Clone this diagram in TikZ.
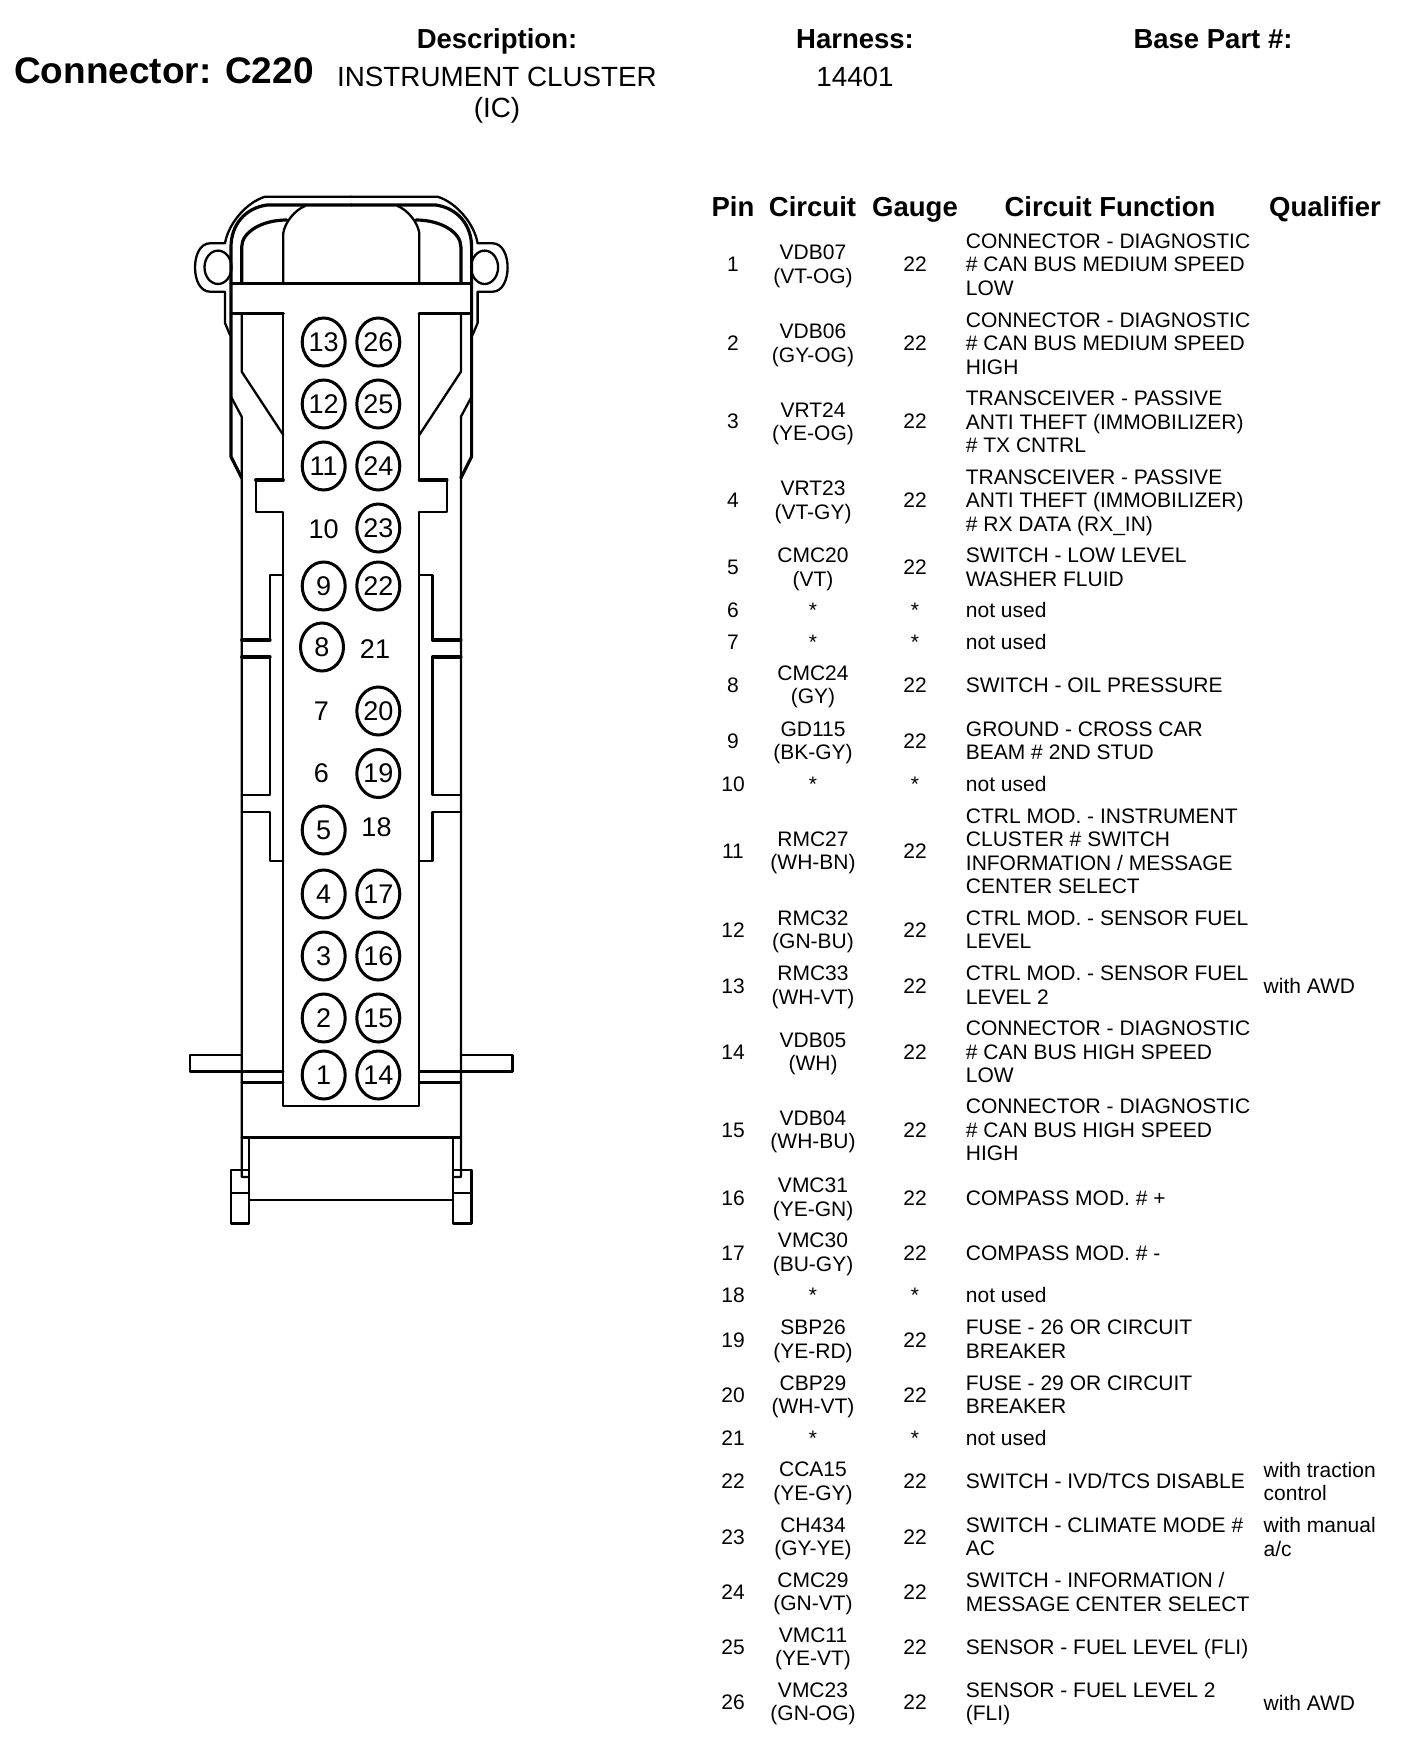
\documentclass[tikz,border=0pt]{standalone}
\usepackage{fontspec}
\setmainfont{Liberation Sans}
\usetikzlibrary{shapes.geometric}
\tikzset{
	partline/.style={line width=2.3pt,line cap=round,line join=round},
	partheavy/.style={line width=3.2pt,line cap=round,line join=round},
	pinring/.style={draw,ellipse,line width=3pt,inner sep=0pt,minimum width=43pt,minimum height=48pt,font=\fontsize{27}{29}\selectfont},
	pinbare/.style={inner sep=0pt,font=\fontsize{27}{29}\selectfont},
	headbold/.style={inner sep=0pt,anchor=base,font=\fontsize{27.5}{30}\bfseries\selectfont},
	headplain/.style={inner sep=0pt,anchor=base,font=\fontsize{27.8}{30}\selectfont},
	cellcenter/.style={inner sep=0pt,align=center,yshift=-2.8pt,font=\fontsize{21}{23.4}\selectfont,execute at begin node=\strut,execute at end node=\strut},
	cellleft/.style={cellcenter,anchor=west,align=left}
}
% one half of the connector shell, the other half is mirrored
\newcommand{\shellhalf}{
	\draw [partline] (351.3,196.7) -- (265,196.7) .. controls (245,203) and (228,225) .. (225,243.3) -- (210,243.3) .. controls (190,243.3) and (190,291.7) .. (210,291.7) -- (225,291.7) -- (225,323) -- (230,335);
	\draw [partline] (218,267.3) ellipse (13.5 and 16.7);
	\draw [partheavy] (351.3,205) -- (267,205) .. controls (245,208) and (231,225) .. (231,247) -- (231,456.7) -- (241.7,478);
	\draw [partheavy] (241.7,283.3) -- (241.7,247) .. controls (241.7,232) and (262,220) .. (286.7,220);
	\draw [partline] (283.3,283.3) -- (283.3,233) .. controls (285,222) and (295,210) .. (305,206);
	\draw [partheavy] (231,283.3) -- (351.3,283.3);
	\draw [partheavy] (231,313.3) -- (283.3,313.3);
	\draw [partline] (241.7,313.3) -- (241.7,371.7) -- (283.3,435);
	\draw [partline] (231,396.7) -- (241.7,416.7) -- (241.7,1177) -- (248,1177);
	\draw [partline] (283.3,313.3) -- (283.3,480) -- (255.7,480) -- (255.7,511.7) -- (283.3,511.7) -- (283.3,1106) -- (351.3,1106);
	\draw [partheavy] (283.3,480) -- (255.7,480);
	\draw [partline] (283.3,575) -- (270,575) -- (270,640);
	\draw [partheavy] (270,640) -- (241.7,640);
	\draw [partheavy] (241.7,657) -- (270,657);
	\draw [partline] (270,657) -- (270,795) -- (241.7,795);
	\draw [partline] (241.7,812) -- (270,812) -- (270,861) -- (283.3,861);
	\draw [partline] (241.7,1055) -- (190,1055) -- (190,1071.5) -- (283.3,1071.5);
	\draw [partline] (241.7,1082.5) -- (283.3,1082.5);
	\draw [partline] (241.7,1137.5) -- (351.3,1137.5);
	\draw [partline] (249.3,1137.5) -- (249.3,1200) -- (351.3,1200);
	\draw [partline] (231,1170) rectangle (249.3,1223.5);
	\draw [partline] (231,1193) -- (249.3,1193);
}
\begin{document}
\begin{tikzpicture}[x=1pt,y=-1pt]
	\useasboundingbox (0,0) rectangle (1408,1742);
	\shellhalf
	\begin{scope}[xshift=702.6pt,xscale=-1]
		\shellhalf
	\end{scope}
	% pins in the connector
	\node [pinring] (ring13) at (323.7,342) {13};
	\node [pinring] (ring26) at (378.3,342) {26};
	\node [pinring] (ring12) at (323.7,404) {12};
	\node [pinring] (ring25) at (378.3,404) {25};
	\node [pinring] (ring11) at (323.7,466) {11};
	\node [pinring] (ring24) at (378.3,466) {24};
	\node [pinbare] (ring10) at (323.7,529) {10};
	\node [pinring] (ring23) at (378.3,528) {23};
	\node [pinring] (ring9) at (323.7,586) {9};
	\node [pinring] (ring22) at (378.3,586) {22};
	\node [pinring] (ring8) at (322,647) {8};
	\node [pinbare] (ring21) at (375,649) {21};
	\node [pinbare] (ring7) at (321.5,711) {7};
	\node [pinring] (ring20) at (378.3,711) {20};
	\node [pinbare] (ring6) at (321.5,773.5) {6};
	\node [pinring] (ring19) at (378.3,773.5) {19};
	\node [pinring] (ring5) at (323.7,830) {5};
	\node [pinbare] (ring18) at (376.5,827.5) {18};
	\node [pinring] (ring4) at (323.7,894) {4};
	\node [pinring] (ring17) at (378.3,894) {17};
	\node [pinring] (ring3) at (323.7,956) {3};
	\node [pinring] (ring16) at (378.3,956) {16};
	\node [pinring] (ring2) at (323.7,1018) {2};
	\node [pinring] (ring15) at (378.3,1018) {15};
	\node [pinring] (ring1) at (323.7,1075) {1};
	\node [pinring] (ring14) at (378.3,1075) {14};
	% page head
	\node [headbold,anchor=base west,font=\fontsize{37}{40}\bfseries\selectfont] (conn) at (14,84) {Connector: C220};
	\node [headbold] (desc) at (497,48.5) {Description:};
	\node [headbold] (harn) at (855,48.5) {Harness:};
	\node [headbold] (base) at (1213,48.5) {Base Part \#:};
	\node [headplain] (descA) at (497,87) {INSTRUMENT CLUSTER};
	\node [headplain] (descB) at (497,118) {(IC)};
	\node [headplain] (harnA) at (855,87) {14401};
	% table head
	\node [headbold] (hPin) at (733,216) {Pin};
	\node [headbold] (hCct) at (812.5,216) {Circuit};
	\node [headbold] (hGau) at (915,216) {Gauge};
	\node [headbold] (hFun) at (1110,216) {Circuit Function};
	\node [headbold] (hQual) at (1325,216) {Qualifier};
	% rows
	\node [cellcenter] (pin1) at (733,264) {1};
	\node [cellcenter] (cct1) at (813,265) {VDB07\\(VT-OG)};
	\node [cellcenter] (gau1) at (915,264) {22};
	\node [cellleft] (fun1) at (965.7,265) {CONNECTOR - DIAGNOSTIC\\\# CAN BUS MEDIUM SPEED\\LOW};
	\node [cellcenter] (pin2) at (733,343.5) {2};
	\node [cellcenter] (cct2) at (813,344) {VDB06\\(GY-OG)};
	\node [cellcenter] (gau2) at (915,343.5) {22};
	\node [cellleft] (fun2) at (965.7,344) {CONNECTOR - DIAGNOSTIC\\\# CAN BUS MEDIUM SPEED\\HIGH};
	\node [cellcenter] (pin3) at (733,421.5) {3};
	\node [cellcenter] (cct3) at (813,422.5) {VRT24\\(YE-OG)};
	\node [cellcenter] (gau3) at (915,421.5) {22};
	\node [cellleft] (fun3) at (965.7,422.5) {TRANSCEIVER - PASSIVE\\ANTI THEFT (IMMOBILIZER)\\\# TX CNTRL};
	\node [cellcenter] (pin4) at (733,500.5) {4};
	\node [cellcenter] (cct4) at (813,501) {VRT23\\(VT-GY)};
	\node [cellcenter] (gau4) at (915,500.5) {22};
	\node [cellleft] (fun4) at (965.7,501) {TRANSCEIVER - PASSIVE\\ANTI THEFT (IMMOBILIZER)\\\# RX DATA (RX\_IN)};
	\node [cellcenter] (pin5) at (733,567.5) {5};
	\node [cellcenter] (cct5) at (813,568) {CMC20\\(VT)};
	\node [cellcenter] (gau5) at (915,567.5) {22};
	\node [cellleft] (fun5) at (965.7,568) {SWITCH - LOW LEVEL\\WASHER FLUID};
	\node [cellcenter] (pin6) at (733,610) {6};
	\node [cellcenter] (cct6) at (813,610.5) {*};
	\node [cellcenter] (gau6) at (915,610.5) {*};
	\node [cellleft] (fun6) at (965.7,610) {not used};
	\node [cellcenter] (pin7) at (733,642) {7};
	\node [cellcenter] (cct7) at (813,642.5) {*};
	\node [cellcenter] (gau7) at (915,642.5) {*};
	\node [cellleft] (fun7) at (965.7,642) {not used};
	\node [cellcenter] (pin8) at (733,685) {8};
	\node [cellcenter] (cct8) at (813,685.5) {CMC24\\(GY)};
	\node [cellcenter] (gau8) at (915,685) {22};
	\node [cellleft] (fun8) at (965.7,685) {SWITCH - OIL PRESSURE};
	\node [cellcenter] (pin9) at (733,741) {9};
	\node [cellcenter] (cct9) at (813,741.5) {GD115\\(BK-GY)};
	\node [cellcenter] (gau9) at (915,741) {22};
	\node [cellleft] (fun9) at (965.7,741.5) {GROUND - CROSS CAR\\BEAM \# 2ND STUD};
	\node [cellcenter] (pin10) at (733,784) {10};
	\node [cellcenter] (cct10) at (813,784) {*};
	\node [cellcenter] (gau10) at (915,784) {*};
	\node [cellleft] (fun10) at (965.7,784) {not used};
	\node [cellcenter] (pin11) at (733,851) {11};
	\node [cellcenter] (cct11) at (813,851.5) {RMC27\\(WH-BN)};
	\node [cellcenter] (gau11) at (915,851) {22};
	\node [cellleft] (fun11) at (965.7,852) {CTRL MOD. - INSTRUMENT\\CLUSTER \# SWITCH\\INFORMATION / MESSAGE\\CENTER SELECT};
	\node [cellcenter] (pin12) at (733,930) {12};
	\node [cellcenter] (cct12) at (813,930.5) {RMC32\\(GN-BU)};
	\node [cellcenter] (gau12) at (915,930) {22};
	\node [cellleft] (fun12) at (965.7,930.5) {CTRL MOD. - SENSOR FUEL\\LEVEL};
	\node [cellcenter] (pin13) at (733,986) {13};
	\node [cellcenter] (cct13) at (813,986) {RMC33\\(WH-VT)};
	\node [cellcenter] (gau13) at (915,986) {22};
	\node [cellleft] (fun13) at (965.7,986) {CTRL MOD. - SENSOR FUEL\\LEVEL 2};
	\node [cellleft] (qual13) at (1263.5,986) {with AWD};
	\node [cellcenter] (pin14) at (733,1052) {14};
	\node [cellcenter] (cct14) at (813,1052.5) {VDB05\\(WH)};
	\node [cellcenter] (gau14) at (915,1052) {22};
	\node [cellleft] (fun14) at (965.7,1052.5) {CONNECTOR - DIAGNOSTIC\\\# CAN BUS HIGH SPEED\\LOW};
	\node [cellcenter] (pin15) at (733,1130) {15};
	\node [cellcenter] (cct15) at (813,1130.5) {VDB04\\(WH-BU)};
	\node [cellcenter] (gau15) at (915,1130) {22};
	\node [cellleft] (fun15) at (965.7,1130.5) {CONNECTOR - DIAGNOSTIC\\\# CAN BUS HIGH SPEED\\HIGH};
	\node [cellcenter] (pin16) at (733,1198) {16};
	\node [cellcenter] (cct16) at (813,1198) {VMC31\\(YE-GN)};
	\node [cellcenter] (gau16) at (915,1198) {22};
	\node [cellleft] (fun16) at (965.7,1198) {COMPASS MOD. \# +};
	\node [cellcenter] (pin17) at (733,1253) {17};
	\node [cellcenter] (cct17) at (813,1253) {VMC30\\(BU-GY)};
	\node [cellcenter] (gau17) at (915,1253) {22};
	\node [cellleft] (fun17) at (965.7,1253) {COMPASS MOD. \# -};
	\node [cellcenter] (pin18) at (733,1295.5) {18};
	\node [cellcenter] (cct18) at (813,1295.5) {*};
	\node [cellcenter] (gau18) at (915,1295.5) {*};
	\node [cellleft] (fun18) at (965.7,1295.5) {not used};
	\node [cellcenter] (pin19) at (733,1340) {19};
	\node [cellcenter] (cct19) at (813,1340) {SBP26\\(YE-RD)};
	\node [cellcenter] (gau19) at (915,1340) {22};
	\node [cellleft] (fun19) at (965.7,1340) {FUSE - 26 OR CIRCUIT\\BREAKER};
	\node [cellcenter] (pin20) at (733,1395) {20};
	\node [cellcenter] (cct20) at (813,1395.5) {CBP29\\(WH-VT)};
	\node [cellcenter] (gau20) at (915,1395) {22};
	\node [cellleft] (fun20) at (965.7,1395.5) {FUSE - 29 OR CIRCUIT\\BREAKER};
	\node [cellcenter] (pin21) at (733,1438) {21};
	\node [cellcenter] (cct21) at (813,1438) {*};
	\node [cellcenter] (gau21) at (915,1438) {*};
	\node [cellleft] (fun21) at (965.7,1438) {not used};
	\node [cellcenter] (pin22) at (733,1481) {22};
	\node [cellcenter] (cct22) at (813,1482) {CCA15\\(YE-GY)};
	\node [cellcenter] (gau22) at (915,1481) {22};
	\node [cellleft] (fun22) at (965.7,1481) {SWITCH - IVD/TCS DISABLE};
	\node [cellleft] (qual22) at (1263.5,1482) {with traction\\control};
	\node [cellcenter] (pin23) at (733,1537) {23};
	\node [cellcenter] (cct23) at (813,1537.5) {CH434\\(GY-YE)};
	\node [cellcenter] (gau23) at (915,1537) {22};
	\node [cellleft] (fun23) at (965.7,1537.5) {SWITCH - CLIMATE MODE \#\\AC};
	\node [cellleft] (qual23) at (1263.5,1537.5) {with manual\\a/c};
	\node [cellcenter] (pin24) at (733,1591.5) {24};
	\node [cellcenter] (cct24) at (813,1592.5) {CMC29\\(GN-VT)};
	\node [cellcenter] (gau24) at (915,1591.5) {22};
	\node [cellleft] (fun24) at (965.7,1592.5) {SWITCH - INFORMATION /\\MESSAGE CENTER SELECT};
	\node [cellcenter] (pin25) at (733,1647) {25};
	\node [cellcenter] (cct25) at (813,1647.5) {VMC11\\(YE-VT)};
	\node [cellcenter] (gau25) at (915,1647) {22};
	\node [cellleft] (fun25) at (965.7,1647) {SENSOR - FUEL LEVEL (FLI)};
	\node [cellcenter] (pin26) at (733,1702) {26};
	\node [cellcenter] (cct26) at (813,1702.5) {VMC23\\(GN-OG)};
	\node [cellcenter] (gau26) at (915,1702) {22};
	\node [cellleft] (fun26) at (965.7,1702.5) {SENSOR - FUEL LEVEL 2\\(FLI)};
	\node [cellleft] (qual26) at (1263.5,1702.5) {with AWD};
\end{tikzpicture}
\end{document}
